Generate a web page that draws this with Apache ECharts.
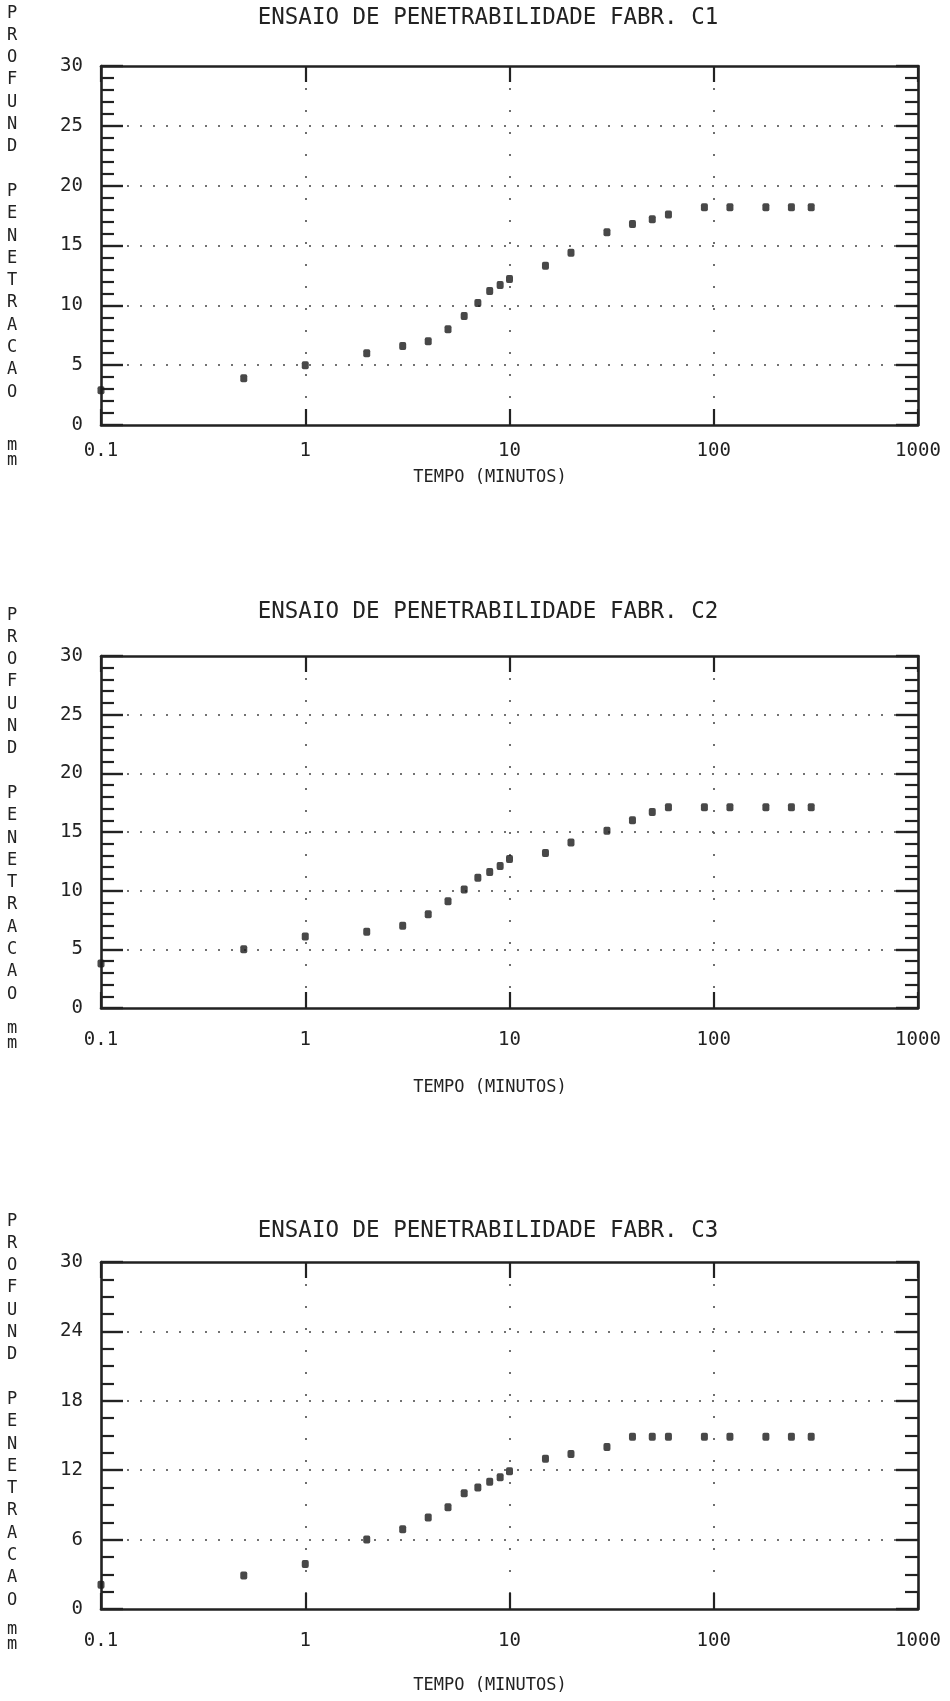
<!DOCTYPE html>
<html>
<head>
<meta charset="utf-8">
<script src="https://cdn.jsdelivr.net/npm/echarts@6/dist/echarts.min.js"></script>
<style>
  html, body { margin: 0; padding: 0; background: #ffffff; }
  #chart { width: 950px; height: 1701px; }
</style>
</head>
<body>
<div id="chart"></div>
<script>
// Penetration-test readings: elapsed time (minutes) and penetration depth (mm)
const tempo = [0.1, 0.5, 1, 2, 3, 4, 5, 6, 7, 8, 9, 10, 15, 20, 30, 40, 50, 60, 90, 120, 180, 240, 300];
const fabrC1 = [2.9, 3.9, 5.0, 6.0, 6.6, 7.0, 8.0, 9.1, 10.2, 11.2, 11.7, 12.2, 13.3, 14.4, 16.1, 16.8, 17.2, 17.6, 18.2, 18.2, 18.2, 18.2, 18.2];
const fabrC2 = [3.8, 5.0, 6.1, 6.5, 7.0, 8.0, 9.1, 10.1, 11.1, 11.6, 12.1, 12.7, 13.2, 14.1, 15.1, 16.0, 16.7, 17.1, 17.1, 17.1, 17.1, 17.1, 17.1];
const fabrC3 = [2.1, 2.9, 3.9, 6.0, 6.9, 7.9, 8.8, 10.0, 10.5, 11.0, 11.4, 11.9, 13.0, 13.4, 14.0, 14.9, 14.9, 14.9, 14.9, 14.9, 14.9, 14.9, 14.9];

const chartTitles = [
  'ENSAIO DE PENETRABILIDADE FABR. C1',
  'ENSAIO DE PENETRABILIDADE FABR. C2',
  'ENSAIO DE PENETRABILIDADE FABR. C3'
];
const xAxisTitle = 'TEMPO (MINUTOS)';
const yAxisTitle = 'PROFUND PENETRACAO';
const yAxisUnit = 'mm';
const xTickValues = [0.1, 1, 10, 100, 1000];
const yMax = [30, 30, 30];
const yStep = [5, 5, 6];
const yMinorSplit = [5, 5, 4];

// Panel placement on the page
const panels = [
  { top: 66,   height: 359, titleY: 18,   labelGap: 17, nameY: 478,  letterY: 2 },
  { top: 656,  height: 352, titleY: 612,  labelGap: 23, nameY: 1088, letterY: 604 },
  { top: 1262, height: 347, titleY: 1231, labelGap: 23, nameY: 1686, letterY: 1210 }
];
const plotLeft = 101, plotWidth = 817;

const FONT = '"DejaVu Sans Mono", "Liberation Mono", monospace';
const INK = '#222222';
const series = [fabrC1, fabrC2, fabrC3];

const grid = [], xAxis = [], yAxis = [], seriesOpt = [], graphic = [];

panels.forEach((p, i) => {
  grid.push({ left: plotLeft, top: p.top, width: plotWidth, height: p.height, show: false });

  // bottom log axis with labels and dotted decade lines
  xAxis.push({
    type: 'log', logBase: 10, gridIndex: i, min: 0.1, max: 1000, position: 'bottom',
    axisLine: { show: true, onZero: false, lineStyle: { color: INK, width: 2.6 } },
    axisTick: { show: true, inside: true, length: 16, lineStyle: { color: INK, width: 2.2 } },
    axisLabel: {
      show: true, margin: p.labelGap, color: INK, fontFamily: FONT, fontSize: 19,
      formatter: v => {
        const hit = xTickValues.find(t => Math.abs(t - v) / t < 1e-6);
        return hit === undefined ? '' : String(hit);
      }
    },
    splitLine: {
      show: true, showMinLine: false, showMaxLine: false,
      lineStyle: { color: '#555', width: 1.7, type: [2, 20] }
    }
  });
  // top mirror axis: border and decade ticks only
  xAxis.push({
    type: 'log', logBase: 10, gridIndex: i, min: 0.1, max: 1000, position: 'top',
    axisLine: { show: true, onZero: false, lineStyle: { color: INK, width: 2.6 } },
    axisTick: { show: true, inside: true, length: 16, lineStyle: { color: INK, width: 2.2 } },
    axisLabel: { show: false },
    splitLine: { show: false }
  });

  const yCommon = {
    type: 'value', gridIndex: i, min: 0, max: yMax[i], interval: yStep[i],
    axisLine: { show: true, onZero: false, lineStyle: { color: INK, width: 2.6 } },
    axisTick: { show: true, inside: true, length: 22, lineStyle: { color: INK, width: 2.4 } },
    minorTick: { show: true, splitNumber: yMinorSplit[i], length: 13, lineStyle: { color: INK, width: 2.2 } }
  };
  yAxis.push(Object.assign({}, yCommon, {
    position: 'left',
    axisLabel: { show: true, margin: 18, color: INK, fontFamily: FONT, fontSize: 19 },
    splitLine: {
      show: true, showMinLine: false, showMaxLine: false,
      lineStyle: { color: '#444', width: 1.7, type: [2, 11] }
    }
  }));
  yAxis.push(Object.assign({}, yCommon, {
    position: 'right',
    axisLabel: { show: false },
    splitLine: { show: false }
  }));

  seriesOpt.push({
    type: 'scatter',
    xAxisIndex: 2 * i, yAxisIndex: 2 * i,
    data: tempo.map((t, k) => [t, series[i][k]]),
    symbol: 'roundRect', symbolSize: [7, 8],
    itemStyle: { color: '#1a1a1a' },
    clip: false, silent: true, z: 5
  });

  graphic.push({
    type: 'text', x: 488, y: p.titleY,
    style: { text: chartTitles[i], fill: INK, font: '22.5px ' + FONT, textAlign: 'center', textVerticalAlign: 'middle' }
  });
  graphic.push({
    type: 'text', x: 490, y: p.nameY,
    style: { text: xAxisTitle, fill: INK, font: '17px ' + FONT, textAlign: 'center', textVerticalAlign: 'middle' }
  });
  graphic.push({
    type: 'text', x: 12, y: p.letterY,
    style: {
      text: yAxisTitle.split('').join('\n'), fill: INK, font: '17px ' + FONT,
      lineHeight: 22.3, textAlign: 'center', textVerticalAlign: 'top'
    }
  });
  graphic.push({
    type: 'text', x: 12, y: p.top + p.height + 13,
    style: {
      text: yAxisUnit.split('').join('\n'), fill: INK, font: '17px ' + FONT,
      lineHeight: 15, textAlign: 'center', textVerticalAlign: 'top'
    }
  });
});

const chart = echarts.init(document.getElementById('chart'), null, { renderer: 'canvas' });
chart.setOption({
  animation: false,
  backgroundColor: '#ffffff',
  grid, xAxis, yAxis,
  series: seriesOpt,
  graphic
});
</script>
</body>
</html>
